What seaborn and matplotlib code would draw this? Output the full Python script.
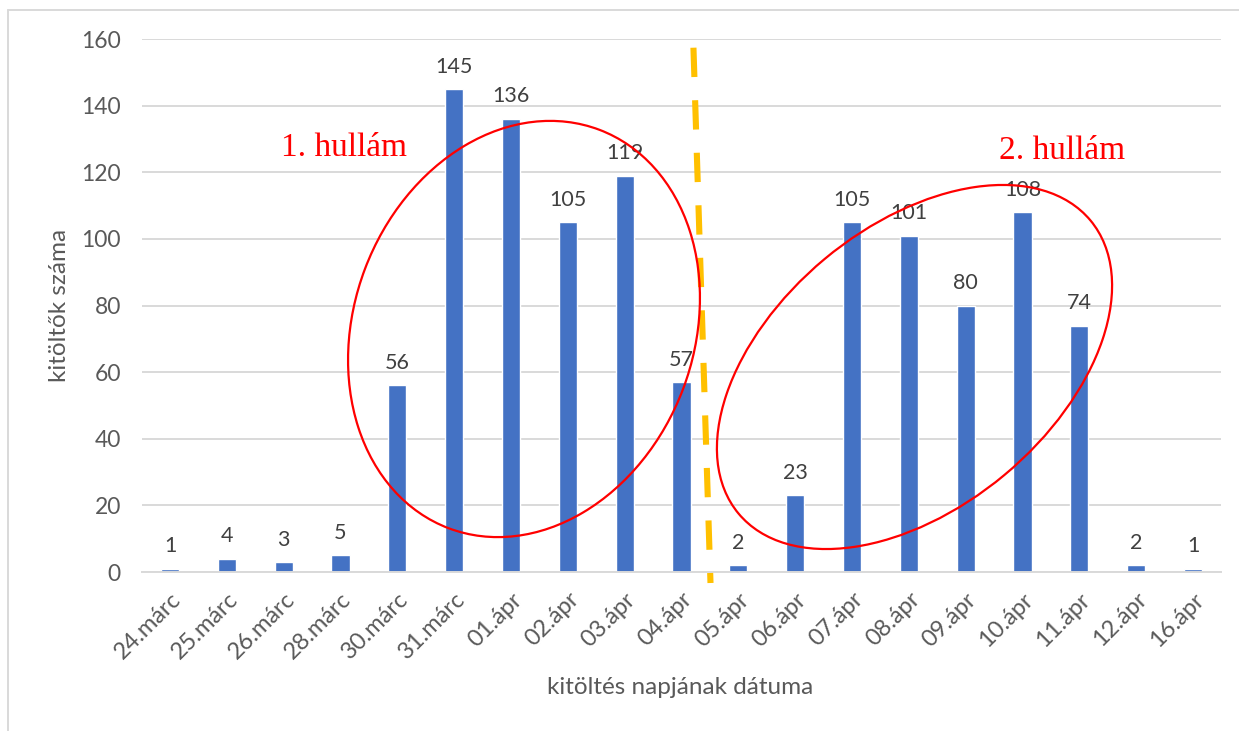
import matplotlib
matplotlib.use("Agg")
import matplotlib.pyplot as plt
import matplotlib.transforms as mtransforms
from matplotlib.patches import Ellipse
from matplotlib.lines import Line2D
import pandas as pd
import seaborn as sns

# adatok
dates = ['24.márc', '25.márc', '26.márc', '28.márc', '30.márc', '31.márc',
         '01.ápr', '02.ápr', '03.ápr', '04.ápr', '05.ápr', '06.ápr', '07.ápr',
         '08.ápr', '09.ápr', '10.ápr', '11.ápr', '12.ápr', '16.ápr']
counts = [1, 4, 3, 5, 56, 145, 136, 105, 119, 57, 2, 23, 105, 101, 80, 108, 74, 2, 1]

wave_labels = ['1. hullám', '2. hullám']

df = pd.DataFrame({'datum': dates, 'db': counts})

sns.set_theme(style='white')
plt.rcParams['font.family'] = ['Lato', 'DejaVu Sans']

fig = plt.figure(figsize=(12.39, 7.31), dpi=100)
ax = fig.add_axes([0.1143, 0.2175, 0.8715, 0.7291])

sns.barplot(data=df, x='datum', y='db', color='#4472C4', saturation=1,
            width=0.32, ax=ax)

ax.set_ylim(0, 160)
ax.set_yticks(range(0, 161, 20))
ax.set_xlim(-0.5, len(dates) - 0.5)
ax.yaxis.grid(True, color='#D9D9D9', linewidth=1.4)
ax.set_axisbelow(True)
for side in ['top', 'right', 'left']:
    ax.spines[side].set_visible(False)
ax.spines['bottom'].set_color('#D9D9D9')
ax.spines['bottom'].set_linewidth(1.4)

ax.tick_params(axis='y', length=0, pad=15, labelsize=16.5, labelcolor='#595959')
ax.tick_params(axis='x', length=0, pad=12, labelsize=17, labelcolor='#595959')
plt.setp(ax.get_xticklabels(), rotation=45, ha='right', rotation_mode='anchor')

ax.set_xlabel('kitöltés napjának dátuma', fontsize=17.5, color='#595959')
ax.set_ylabel('kitöltők száma', fontsize=17.5, color='#595959')
ax.xaxis.set_label_coords(0.499, -0.197)
ax.yaxis.set_label_coords(-0.066, 0.5)

ax.bar_label(ax.containers[0], padding=9, fontsize=15.5, color='#404040')

# sárga szaggatott elválasztó vonal
sep_x = [9.21, 9.51]
sep_y = [157.4, -3.3]
ax.plot(sep_x, sep_y, color='#FFC000', linewidth=4.4,
        linestyle=(0, (4.8, 3.8)), solid_capstyle='butt',
        dash_capstyle='butt', clip_on=False, zorder=5)

# piros ellipszisek (pixelben)
ident = mtransforms.IdentityTransform()
e1 = Ellipse((524, 402), 426, 340, angle=69.3, fill=False,
             edgecolor='red', linewidth=1.6, transform=ident)
e2 = Ellipse((914.5, 364), 458, 281, angle=39.8, fill=False,
             edgecolor='red', linewidth=1.6, transform=ident)
fig.add_artist(e1)
fig.add_artist(e2)

ax.text(3.06, 127.4, wave_labels[0], color='red', fontsize=24,
        family='Liberation Serif', ha='center', va='center')
ax.text(15.7, 126.4, wave_labels[1], color='red', fontsize=24,
        family='Liberation Serif', ha='center', va='center')

# keret
fig.add_artist(Line2D([8 / 1239, 8 / 1239], [0, 1 - 10 / 731],
                      transform=fig.transFigure, color='#D9D9D9', linewidth=1.4))
fig.add_artist(Line2D([8 / 1239, 1], [1 - 10 / 731, 1 - 10 / 731],
                      transform=fig.transFigure, color='#D9D9D9', linewidth=1.4))

fig.savefig('out.png', dpi=100)
